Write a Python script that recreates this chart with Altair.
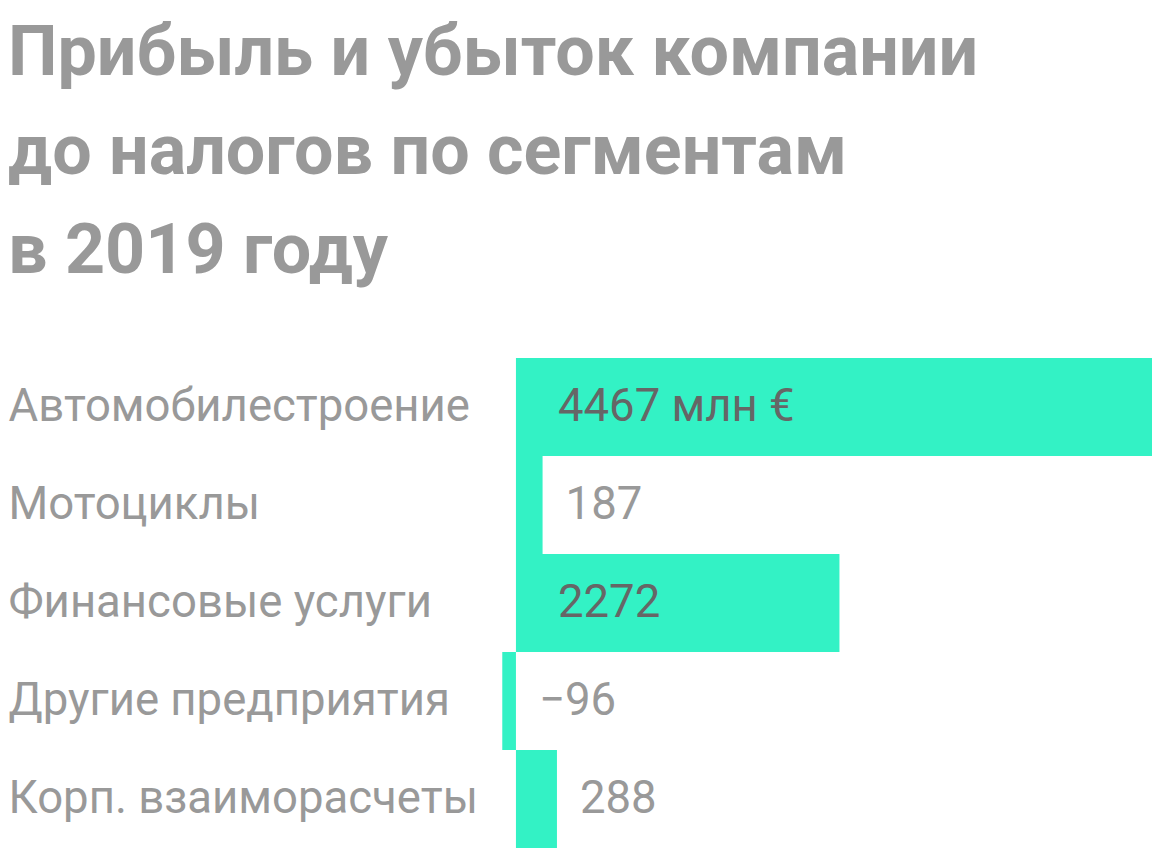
import altair as alt
import pandas as pd

categories = ["Автомобилестроение", "Мотоциклы", "Финансовые услуги",
              "Другие предприятия", "Корп. взаиморасчеты"]
values = [4467, 187, 2272, -96, 288]
labels = ["4467 млн €", "187", "2272", "−96", "288"]

df = pd.DataFrame({"cat": categories, "value": values, "label": labels})

FONT = "Roboto"
BAR = "#33F2C5"
FS = 45.5

y_enc = alt.Y("cat:N", sort=categories, title=None,
              scale=alt.Scale(paddingInner=0, paddingOuter=0),
              axis=alt.Axis(domain=False, ticks=False, tickSize=0, labelAlign="left",
                            labelPadding=492, labelFontSize=FS, labelColor="#999999",
                            labelFont=FONT, labelLimit=700, labelBaseline="middle"))
x_scale = alt.Scale(domain=[-112, 4467], nice=False, zero=False)

base = alt.Chart(df)

bars = base.mark_bar(color=BAR, cornerRadius=0).encode(
    x=alt.X("value:Q", scale=x_scale, axis=None),
    x2=alt.datum(0),
    y=y_enc,
)

inside = base.transform_filter("datum.value > 1000").transform_calculate(
    zero="0"
).mark_text(
    align="left", baseline="middle", dx=42, fontSize=FS, font=FONT, color="#666666"
).encode(
    x=alt.X("zero:Q", scale=x_scale, axis=None),
    y=alt.Y("cat:N", sort=categories),
    text="label:N",
)

outside = base.transform_filter("datum.value <= 1000").transform_calculate(
    lx="max(datum.value, 0)"
).mark_text(
    align="left", baseline="middle", dx=23, fontSize=FS, font=FONT, color="#999999"
).encode(
    x=alt.X("lx:Q", scale=x_scale, axis=None),
    y=alt.Y("cat:N", sort=categories),
    text="label:N",
)

chart = alt.layer(bars, inside, outside).properties(
    width=652, height=490,
    autosize=alt.AutoSizeParams(type="none"),
    padding={"left": 492, "top": 350, "right": 0, "bottom": 0},
    title=alt.Title(
        text=["Прибыль и убыток компании", "до налогов по сегментам", "в 2019 году"],
        anchor="start", frame="bounds", fontSize=70, fontWeight="bold",
        font=FONT, color="#999999", lineHeight=99, offset=70,
    ),
).configure_view(stroke=None).configure_axis(grid=False)

chart.save("out.html", embed_options={"renderer": "svg", "actions": False})
